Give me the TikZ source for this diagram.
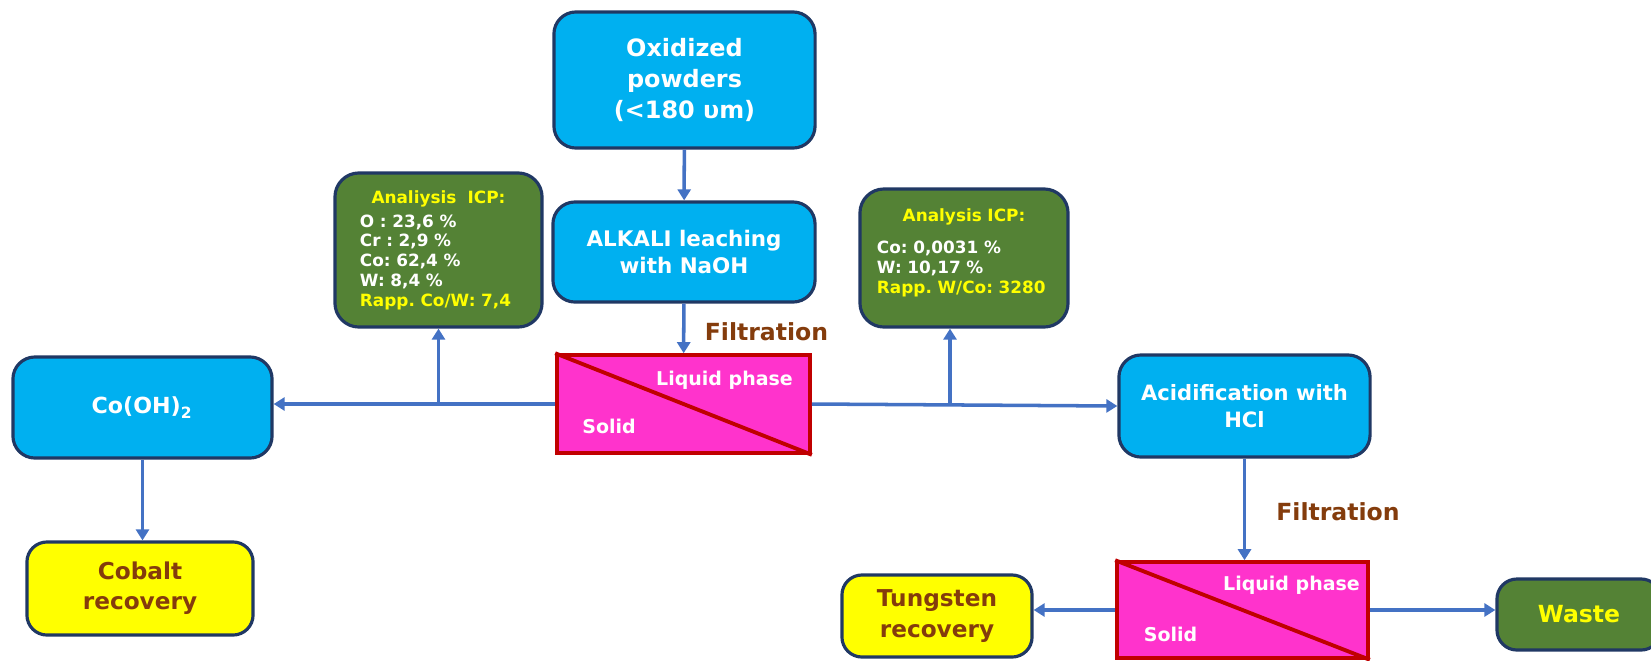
\documentclass[tikz,border=0pt]{standalone}
\usepackage{fontspec}
\setmainfont{DejaVu Sans}
\usetikzlibrary{arrows.meta}

\definecolor{procblue}{HTML}{00B0F0}
\definecolor{boxnavy}{HTML}{203864}
\definecolor{icpgreen}{HTML}{548235}
\definecolor{icpyellow}{HTML}{FFFF00}
\definecolor{recbrown}{HTML}{843C0C}
\definecolor{filtpink}{HTML}{FF33CC}
\definecolor{filtred}{HTML}{C00000}
\definecolor{flowblue}{HTML}{4472C4}

\frenchspacing

\begin{document}
\begin{tikzpicture}[%
		x=0.01cm,
		y=-0.01cm,
		>={Triangle[length=1.1mm,width=1.3mm]},
		flow/.style={->, draw=flowblue, line width=1pt},
		procbox/.style={%
			rectangle, rounded corners=0.22cm,
			draw=boxnavy, line width=0.9pt,
			fill=procblue, text=white,
			align=center, inner sep=0pt
		},
		anlbox/.style={%
			rectangle, rounded corners=0.24cm,
			draw=boxnavy, line width=0.9pt,
			fill=icpgreen, text=white,
			align=left, inner sep=0pt,
			font=\fontsize{4.8}{5.6}\selectfont\bfseries\frenchspacing
		},
		recbox/.style={%
			rectangle, rounded corners=0.2cm,
			draw=boxnavy, line width=0.9pt,
			fill=icpyellow, text=recbrown,
			align=center, inner sep=0pt,
			font=\fontsize{6.6}{8.6}\selectfont\bfseries
		},
		filtbox/.style={%
			rectangle, draw=filtred, line width=1pt,
			fill=filtpink, inner sep=0pt
		},
		filtline/.style={draw=filtred, line width=1.1pt},
		phase/.style={text=white, inner sep=0pt,
			font=\fontsize{5.4}{6}\selectfont\bfseries},
		filtlabel/.style={text=recbrown, inner sep=0pt,
			font=\fontsize{6.7}{8}\selectfont\bfseries}
		]
		\useasboundingbox (0,0) rectangle (1651,660);

		% main line
		\node[procbox, minimum width=2.61cm, minimum height=1.36cm,
			font=\fontsize{6.8}{8.7}\selectfont\bfseries] (oxid) at (684.5,80)
			{Oxidized\\powders\\(<180 υm)};
		\node[procbox, minimum width=2.62cm, minimum height=1.00cm,
			font=\fontsize{6.1}{7.4}\selectfont\bfseries] (alkali) at (684,252)
			{ALKALI leaching\\with NaOH};
		\node[filtbox, minimum width=2.53cm, minimum height=0.98cm] (filt1) at (683.5,404) {};
		\draw[filtline] (filt1.north west) -- (filt1.south east);
		\node[phase] (liq1) at (724.5,380) {Liquid phase};
		\node[phase] (sol1) at (609,426) {Solid};
		\node[filtlabel] (filtr1) at (766.5,332) {Filtration};

		% analyses
		\node[anlbox, minimum width=2.07cm, minimum height=1.54cm, text width=1.57cm] (anl1) at (438.5,250)
			{\centering\textcolor{icpyellow}{Analiysis\ \ ICP:}\par\vspace{1.2pt}
			\raggedright O : 23,6 \%\\Cr : 2,9 \%\\Co: 62,4 \%\\W: 8,4 \%\\
			\textcolor{icpyellow}{Rapp. Co/W: 7,4}};
		\node[anlbox, minimum width=2.08cm, minimum height=1.38cm, text width=1.74cm] (anl2) at (964,258)
			{\centering\textcolor{icpyellow}{Analysis ICP:}\par\vspace{3.5pt}
			\raggedright Co: 0,0031 \%\\W: 10,17 \%\\
			\textcolor{icpyellow}{Rapp. W/Co: 3280}\par\vspace{3pt}};

		% left branch
		\node[procbox, minimum width=2.59cm, minimum height=1.01cm,
			font=\fontsize{6.3}{7.5}\selectfont\bfseries] (cooh) at (142.5,407.5)
			{Co(OH)\textsubscript{2}};
		\node[recbox, minimum width=2.26cm, minimum height=0.93cm] (cobalt) at (140,588.5)
			{Cobalt\\recovery};

		% right branch
		\node[procbox, minimum width=2.51cm, minimum height=1.02cm,
			font=\fontsize{6}{7.6}\selectfont\bfseries] (acid) at (1244.5,406)
			{Acidification with\\HCl};
		\node[filtlabel] (filtr2) at (1338,512) {Filtration};
		\node[filtbox, minimum width=2.51cm, minimum height=0.96cm] (filt2) at (1242.5,610) {};
		\draw[filtline] (filt2.north west) -- (filt2.south east);
		\node[phase] (liq2) at (1291.5,585) {Liquid phase};
		\node[phase] (sol2) at (1170.5,634) {Solid};
		\node[recbox, minimum width=1.90cm, minimum height=0.82cm,
			font=\fontsize{6.6}{8.8}\selectfont\bfseries] (tung) at (937,616)
			{Tungsten\\recovery};
		\node[recbox, fill=icpgreen, text=icpyellow, minimum width=1.64cm, minimum height=0.71cm,
			font=\fontsize{6.7}{8}\selectfont\bfseries] (waste) at (1579,614.5) {Waste};

		\coordinate (br2) at (950,405);

		\draw[flow] (oxid) -- (alkali);
		\draw[flow] (alkali) -- (filt1);
		\draw[flow] (filt1.west) -- (filt1.west -| cooh.east);
		\draw[flow] (anl1.south |- filt1.west) -- (anl1.south);
		\draw[flow] (filt1.east) -- (acid.west);
		\draw[flow] (br2) -- (br2 |- anl2.south);
		\draw[flow] (cooh.south) -- (cooh.south |- cobalt.north);
		\draw[flow] (acid.south) -- (acid.south |- filt2.north);
		\draw[flow] (filt2.west) -- (filt2.west -| tung.east);
		\draw[flow] (filt2.east) -- (filt2.east -| waste.west);
\end{tikzpicture}
\end{document}
